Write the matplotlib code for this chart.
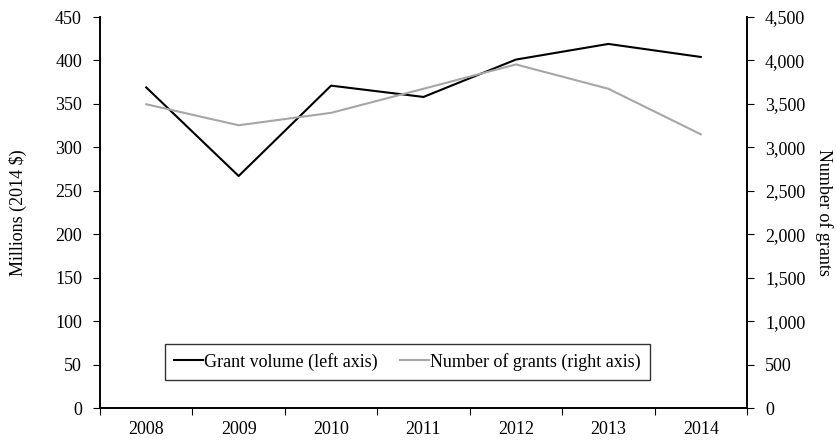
import matplotlib
matplotlib.use("Agg")
import matplotlib.pyplot as plt
from matplotlib.ticker import FuncFormatter, FixedLocator, NullFormatter

years = ["2008", "2009", "2010", "2011", "2012", "2013", "2014"]
grant_volume = [369, 267, 371, 358, 401, 419, 404]
num_grants = [3496, 3254, 3397, 3674, 3954, 3674, 3150]

plt.rcParams['font.family'] = ['Liberation Serif', 'DejaVu Serif']
plt.rcParams['font.size'] = 13

fig = plt.figure(figsize=(8.36, 4.40), dpi=100)
ax = fig.add_axes([100/836, 1-408/440, 647/836, 391/440])
ax2 = ax.twinx()

x = list(range(len(years)))
l1, = ax.plot(x, grant_volume, color="black", lw=1.5, label="Grant volume (left axis)")
l2, = ax2.plot(x, num_grants, color="#A6A6A6", lw=1.5, label="Number of grants (right axis)")

ax.set_xlim(-0.5, len(years) - 0.5)
ax.set_ylim(0, 450)
ax2.set_ylim(0, 4500)
ax.set_yticks(range(0, 451, 50))
ax2.set_yticks(range(0, 4501, 500))
ax2.yaxis.set_major_formatter(FuncFormatter(lambda v, p: f"{int(v):,}"))

ax.xaxis.set_major_locator(FixedLocator([i - 0.5 for i in range(len(years) + 1)]))
ax.xaxis.set_major_formatter(NullFormatter())
ax.xaxis.set_minor_locator(FixedLocator(x))
ax.set_xticklabels(years, minor=True)
ax.tick_params(axis='x', which='minor', length=0, pad=9)
ax.tick_params(axis='x', which='major', length=5, direction='out')
ax.tick_params(axis='y', length=5, direction='out', pad=8)
ax2.tick_params(axis='y', length=5, direction='out', pad=8)

for a in (ax, ax2):
    a.spines['top'].set_visible(False)
    for s in a.spines.values():
        s.set_linewidth(1.2)

ax.set_ylabel("Millions (2014 $)", labelpad=20)
ax2.set_ylabel("Number of grants", rotation=-90, labelpad=20)

leg = ax.legend(handles=[l1, l2], loc='center', bbox_to_anchor=(0.475, 0.118),
                ncol=2, frameon=True, fancybox=False, edgecolor='black',
                handlelength=1.6, handletextpad=0.1, columnspacing=1.2,
                borderpad=0.5, fontsize=13)
leg.get_frame().set_linewidth(1.0)

fig.savefig("out.png", dpi=100)
